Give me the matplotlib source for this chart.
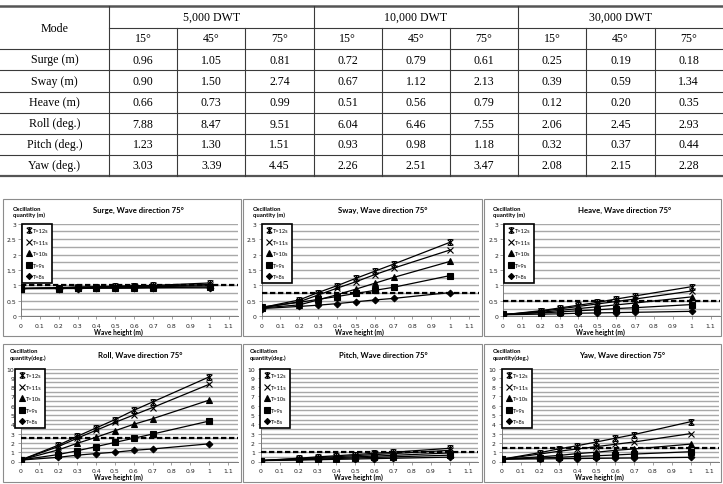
import numpy as np
import matplotlib.pyplot as plt
from matplotlib.path import Path
from matplotlib.lines import Line2D
from matplotlib.ticker import FuncFormatter

# ---- table data ----
modes = ['Surge (m)', 'Sway (m)', 'Heave (m)', 'Roll (deg.)', 'Pitch (deg.)', 'Yaw (deg.)']
ships = ['5,000 DWT', '10,000 DWT', '30,000 DWT']
angles = ['15°', '45°', '75°']
surge_max = [0.96, 1.05, 0.81, 0.72, 0.79, 0.61, 0.25, 0.19, 0.18]
sway_max = [0.90, 1.50, 2.74, 0.67, 1.12, 2.13, 0.39, 0.59, 1.34]
heave_max = [0.66, 0.73, 0.99, 0.51, 0.56, 0.79, 0.12, 0.20, 0.35]
roll_max = [7.88, 8.47, 9.51, 6.04, 6.46, 7.55, 2.06, 2.45, 2.93]
pitch_max = [1.23, 1.30, 1.51, 0.93, 0.98, 1.18, 0.32, 0.37, 0.44]
yaw_max = [3.03, 3.39, 4.45, 2.26, 2.51, 3.47, 2.08, 2.15, 2.28]

# ---- chart data ----
wave_height = [0, 0.2, 0.3, 0.4, 0.5, 0.6, 0.7, 1.0]
periods = ['T=12s', 'T=11s', 'T=10s', 'T=9s', 'T=8s']
surge = [[0.90, 0.93, 0.95, 0.96, 0.98, 0.99, 1.00, 1.08],
         [0.90, 0.92, 0.94, 0.95, 0.96, 0.97, 0.98, 1.03],
         [0.90, 0.91, 0.92, 0.93, 0.94, 0.95, 0.96, 0.99],
         [0.90, 0.90, 0.91, 0.92, 0.92, 0.93, 0.93, 0.95],
         [0.90, 0.90, 0.90, 0.91, 0.91, 0.91, 0.92, 0.92]]
sway = [[0.28, 0.53, 0.77, 0.99, 1.23, 1.46, 1.69, 2.40],
        [0.27, 0.47, 0.69, 0.91, 1.12, 1.35, 1.56, 2.15],
        [0.27, 0.37, 0.53, 0.70, 0.88, 1.07, 1.26, 1.78],
        [0.30, 0.45, 0.55, 0.64, 0.74, 0.84, 0.94, 1.32],
        [0.25, 0.32, 0.36, 0.41, 0.47, 0.53, 0.58, 0.77]]
heave = [[0.05, 0.18, 0.27, 0.36, 0.45, 0.56, 0.66, 0.96],
         [0.05, 0.16, 0.24, 0.32, 0.40, 0.48, 0.56, 0.82],
         [0.05, 0.13, 0.19, 0.25, 0.31, 0.37, 0.43, 0.63],
         [0.07, 0.11, 0.14, 0.18, 0.21, 0.25, 0.28, 0.38],
         [0.05, 0.07, 0.08, 0.10, 0.11, 0.12, 0.13, 0.16]]
roll = [[0.15, 1.75, 2.70, 3.60, 4.50, 5.50, 6.40, 9.10],
        [0.15, 1.60, 2.50, 3.35, 4.20, 5.00, 5.80, 8.30],
        [0.15, 1.25, 1.95, 2.60, 3.30, 4.00, 4.60, 6.60],
        [0.15, 0.75, 1.15, 1.60, 2.05, 2.50, 2.95, 4.35],
        [0.15, 0.45, 0.68, 0.85, 1.00, 1.20, 1.35, 1.90]]
pitch = [[0.10, 0.35, 0.50, 0.62, 0.75, 0.88, 1.00, 1.42],
         [0.10, 0.30, 0.42, 0.52, 0.63, 0.74, 0.85, 1.20],
         [0.10, 0.25, 0.33, 0.42, 0.50, 0.58, 0.66, 0.92],
         [0.10, 0.20, 0.26, 0.32, 0.38, 0.44, 0.50, 0.68],
         [0.10, 0.15, 0.19, 0.23, 0.27, 0.31, 0.35, 0.47]]
yaw = [[0.25, 0.95, 1.35, 1.70, 2.10, 2.50, 2.90, 4.28],
       [0.25, 0.80, 1.10, 1.35, 1.60, 1.85, 2.10, 3.00],
       [0.25, 0.50, 0.65, 0.85, 1.00, 1.20, 1.35, 1.87],
       [0.25, 0.38, 0.45, 0.55, 0.62, 0.70, 0.80, 1.05],
       [0.25, 0.28, 0.30, 0.32, 0.34, 0.36, 0.38, 0.45]]
allowable = [1.02, 0.75, 0.50, 2.50, 1.00, 1.50]
titles = ['Surge, Wave direction 75°', 'Sway, Wave direction 75°', 'Heave, Wave direction 75°',
          'Roll, Wave direction 75°', 'Pitch, Wave direction 75°', 'Yaw, Wave direction 75°']
ylabels = ['Oscillation\nquantity (m)'] * 3 + ['Oscillation\nquantity(deg.)'] * 3

W, H = 723, 485
fig = plt.figure(figsize=(W / 100, H / 100), dpi=100)
bg = fig.add_axes([0, 0, 1, 1])
bg.set_xlim(0, W)
bg.set_ylim(H, 0)
bg.axis('off')

# ---- table ----
serif = 'Liberation Serif'
col_x = [109 + 68.2 * i for i in range(10)]
row_y = [7, 29, 50, 71, 92.5, 114, 135, 156, 177]
lc = '#3a3a3a'
bg.plot([0, W], [row_y[0]] * 2, color='#555555', lw=1.8)
bg.plot([0, W], [row_y[-1]] * 2, color='#555555', lw=1.6)
bg.plot([col_x[0], W], [row_y[1]] * 2, color=lc, lw=0.8)
for y in row_y[2:-1]:
    bg.plot([0, W], [y, y], color=lc, lw=0.8)
for i, x in enumerate(col_x[:-1]):
    top = row_y[0] if i % 3 == 0 else row_y[1]
    bg.plot([x, x], [top, row_y[-1]], color=lc, lw=0.8)

tfs = 8.6
bg.text(col_x[0] / 2, row_y[1], 'Mode', ha='center', va='center', family=serif, fontsize=tfs)
for g, name in enumerate(ships):
    bg.text((col_x[3 * g] + col_x[3 * g + 3]) / 2, (row_y[0] + row_y[1]) / 2, name,
            ha='center', va='center', family=serif, fontsize=tfs)
    for k, a in enumerate(angles):
        c = 3 * g + k
        bg.text((col_x[c] + col_x[c + 1]) / 2, (row_y[1] + row_y[2]) / 2, a,
                ha='center', va='center', family=serif, fontsize=tfs)
table_rows = [surge_max, sway_max, heave_max, roll_max, pitch_max, yaw_max]
for r, (name, vals) in enumerate(zip(modes, table_rows)):
    yc = (row_y[r + 2] + row_y[r + 3]) / 2
    bg.text(col_x[0] / 2, yc, name, ha='center', va='center', family=serif, fontsize=tfs)
    for c, v in enumerate(vals):
        bg.text((col_x[c] + col_x[c + 1]) / 2, yc, f'{v:.2f}', ha='center', va='center',
                family=serif, fontsize=tfs)

# ---- charts ----
star = Path([(-1, -1), (1, 1), (-1, 1), (1, -1), (0, -1), (0, 1),
             (-0.7, 1), (0.7, 1), (-0.7, -1), (0.7, -1)],
            [Path.MOVETO, Path.LINETO] * 5)
markers = [star, 'x', '^', 's', 'D']
msizes = [4.2, 4.2, 4.2, 4.0, 3.4]

sans = 'Lato'
panels = [(3, 200, 241, 337), (243, 200, 482, 337), (484, 200, 721, 337),
          (3, 345, 241, 483), (243, 345, 482, 483), (484, 345, 721, 483)]
axes_px = [(21, 224.7, 317.3), (261.5, 224.7, 317.3), (503, 224.7, 317.3),
           (20.5, 369.5, 462.5), (261, 369.5, 462.5), (502, 369.5, 462.5)]
legend_px = [(22, 225), (262, 225), (504, 225), (15, 370), (260, 370), (502, 370)]
title_px = [(138, 210), (383, 210), (625, 210), (140, 355), (383, 355), (622, 355)]
ylab_px = [(13, 212.5), (253, 212.5), (493, 212.5), (9.5, 355), (250, 355), (493, 355)]
series_sets = [surge, sway, heave, roll, pitch, yaw]

for i in range(6):
    x0, y0, x1, y1 = panels[i]
    bg.add_patch(plt.Rectangle((x0, y0), x1 - x0, y1 - y0, fill=False, ec='#8c8c8c', lw=0.8))

    left, top, bottom = axes_px[i]
    width = 217
    ax = fig.add_axes([left / W, 1 - bottom / H, width / W, (bottom - top) / H])
    ax.patch.set_alpha(0)
    ymax = 3 if i < 3 else 10
    ax.set_xlim(0, 1.15)
    ax.set_ylim(0, ymax)
    if i < 3:
        ax.set_yticks(np.arange(0, 3.01, 0.5))
        ax.set_yticks(np.arange(0, 3.01, 0.25), minor=True)
    else:
        ax.set_yticks(np.arange(0, 10.01, 1))
        ax.set_yticks(np.arange(0, 10.01, 0.5), minor=True)
    ax.set_xticks(np.arange(0, 1.11, 0.1))
    fmt = FuncFormatter(lambda v, p: f'{v:g}')
    ax.xaxis.set_major_formatter(fmt)
    ax.yaxis.set_major_formatter(fmt)
    ax.grid(which='both', axis='y', color='#a8a8a8', lw=1.0)
    ax.set_axisbelow(True)
    for s in ['top', 'right']:
        ax.spines[s].set_visible(False)
    for s in ['left', 'bottom']:
        ax.spines[s].set_color('#7a7a7a')
        ax.spines[s].set_linewidth(0.7)
    ax.tick_params(which='major', labelsize=4.4, length=2, width=0.5, pad=1.5,
                   color='#7a7a7a', labelcolor='#222222')
    ax.tick_params(axis='x', pad=2.5)
    if i >= 3:
        ax.tick_params(axis='y', pad=2.5)
    ax.tick_params(which='minor', length=0)
    for lab in ax.get_xticklabels() + ax.get_yticklabels():
        lab.set_family('DejaVu Sans')

    for k, ys in enumerate(series_sets[i]):
        ax.plot(wave_height, ys, color='black', lw=0.9, marker=markers[k], ms=msizes[k],
                mfc='black', mec='black', mew=0.8, zorder=3)
    ax.axhline(allowable[i], color='black', lw=1.6, dashes=(2.4, 1.2), zorder=4)

    ax.set_xlabel('Wave height (m)', family=sans, fontsize=4.8, fontweight='bold', va='center')
    ax.xaxis.set_label_coords(0.45, -0.165)

    handles = [Line2D([], [], ls='none', marker=markers[k], ms=msizes[k] - 0.3, color='black',
                      mfc='black', mew=0.8) for k in range(5)]
    lx, ly = legend_px[i]
    leg = ax.legend(handles, periods, loc='upper left',
                    bbox_to_anchor=(lx / W, 1 - ly / H), bbox_transform=fig.transFigure,
                    prop={'family': sans, 'size': 4.1}, frameon=True, fancybox=False,
                    borderpad=0.7, labelspacing=1.15, handlelength=0.9, handletextpad=0.3,
                    borderaxespad=0, framealpha=1)
    leg.get_frame().set_edgecolor('black')
    leg.get_frame().set_linewidth(1.2)
    leg.set_zorder(6)

    tx, ty = title_px[i]
    bg.text(tx, ty, titles[i], ha='center', va='center', family=sans, fontsize=5.6,
            fontweight='bold')
    yx, yy = ylab_px[i]
    bg.text(yx, yy, ylabels[i], ha='left', va='center', family=sans, fontsize=4.3,
            fontweight='bold', linespacing=1.25)

fig.savefig('out.png', dpi=100)
